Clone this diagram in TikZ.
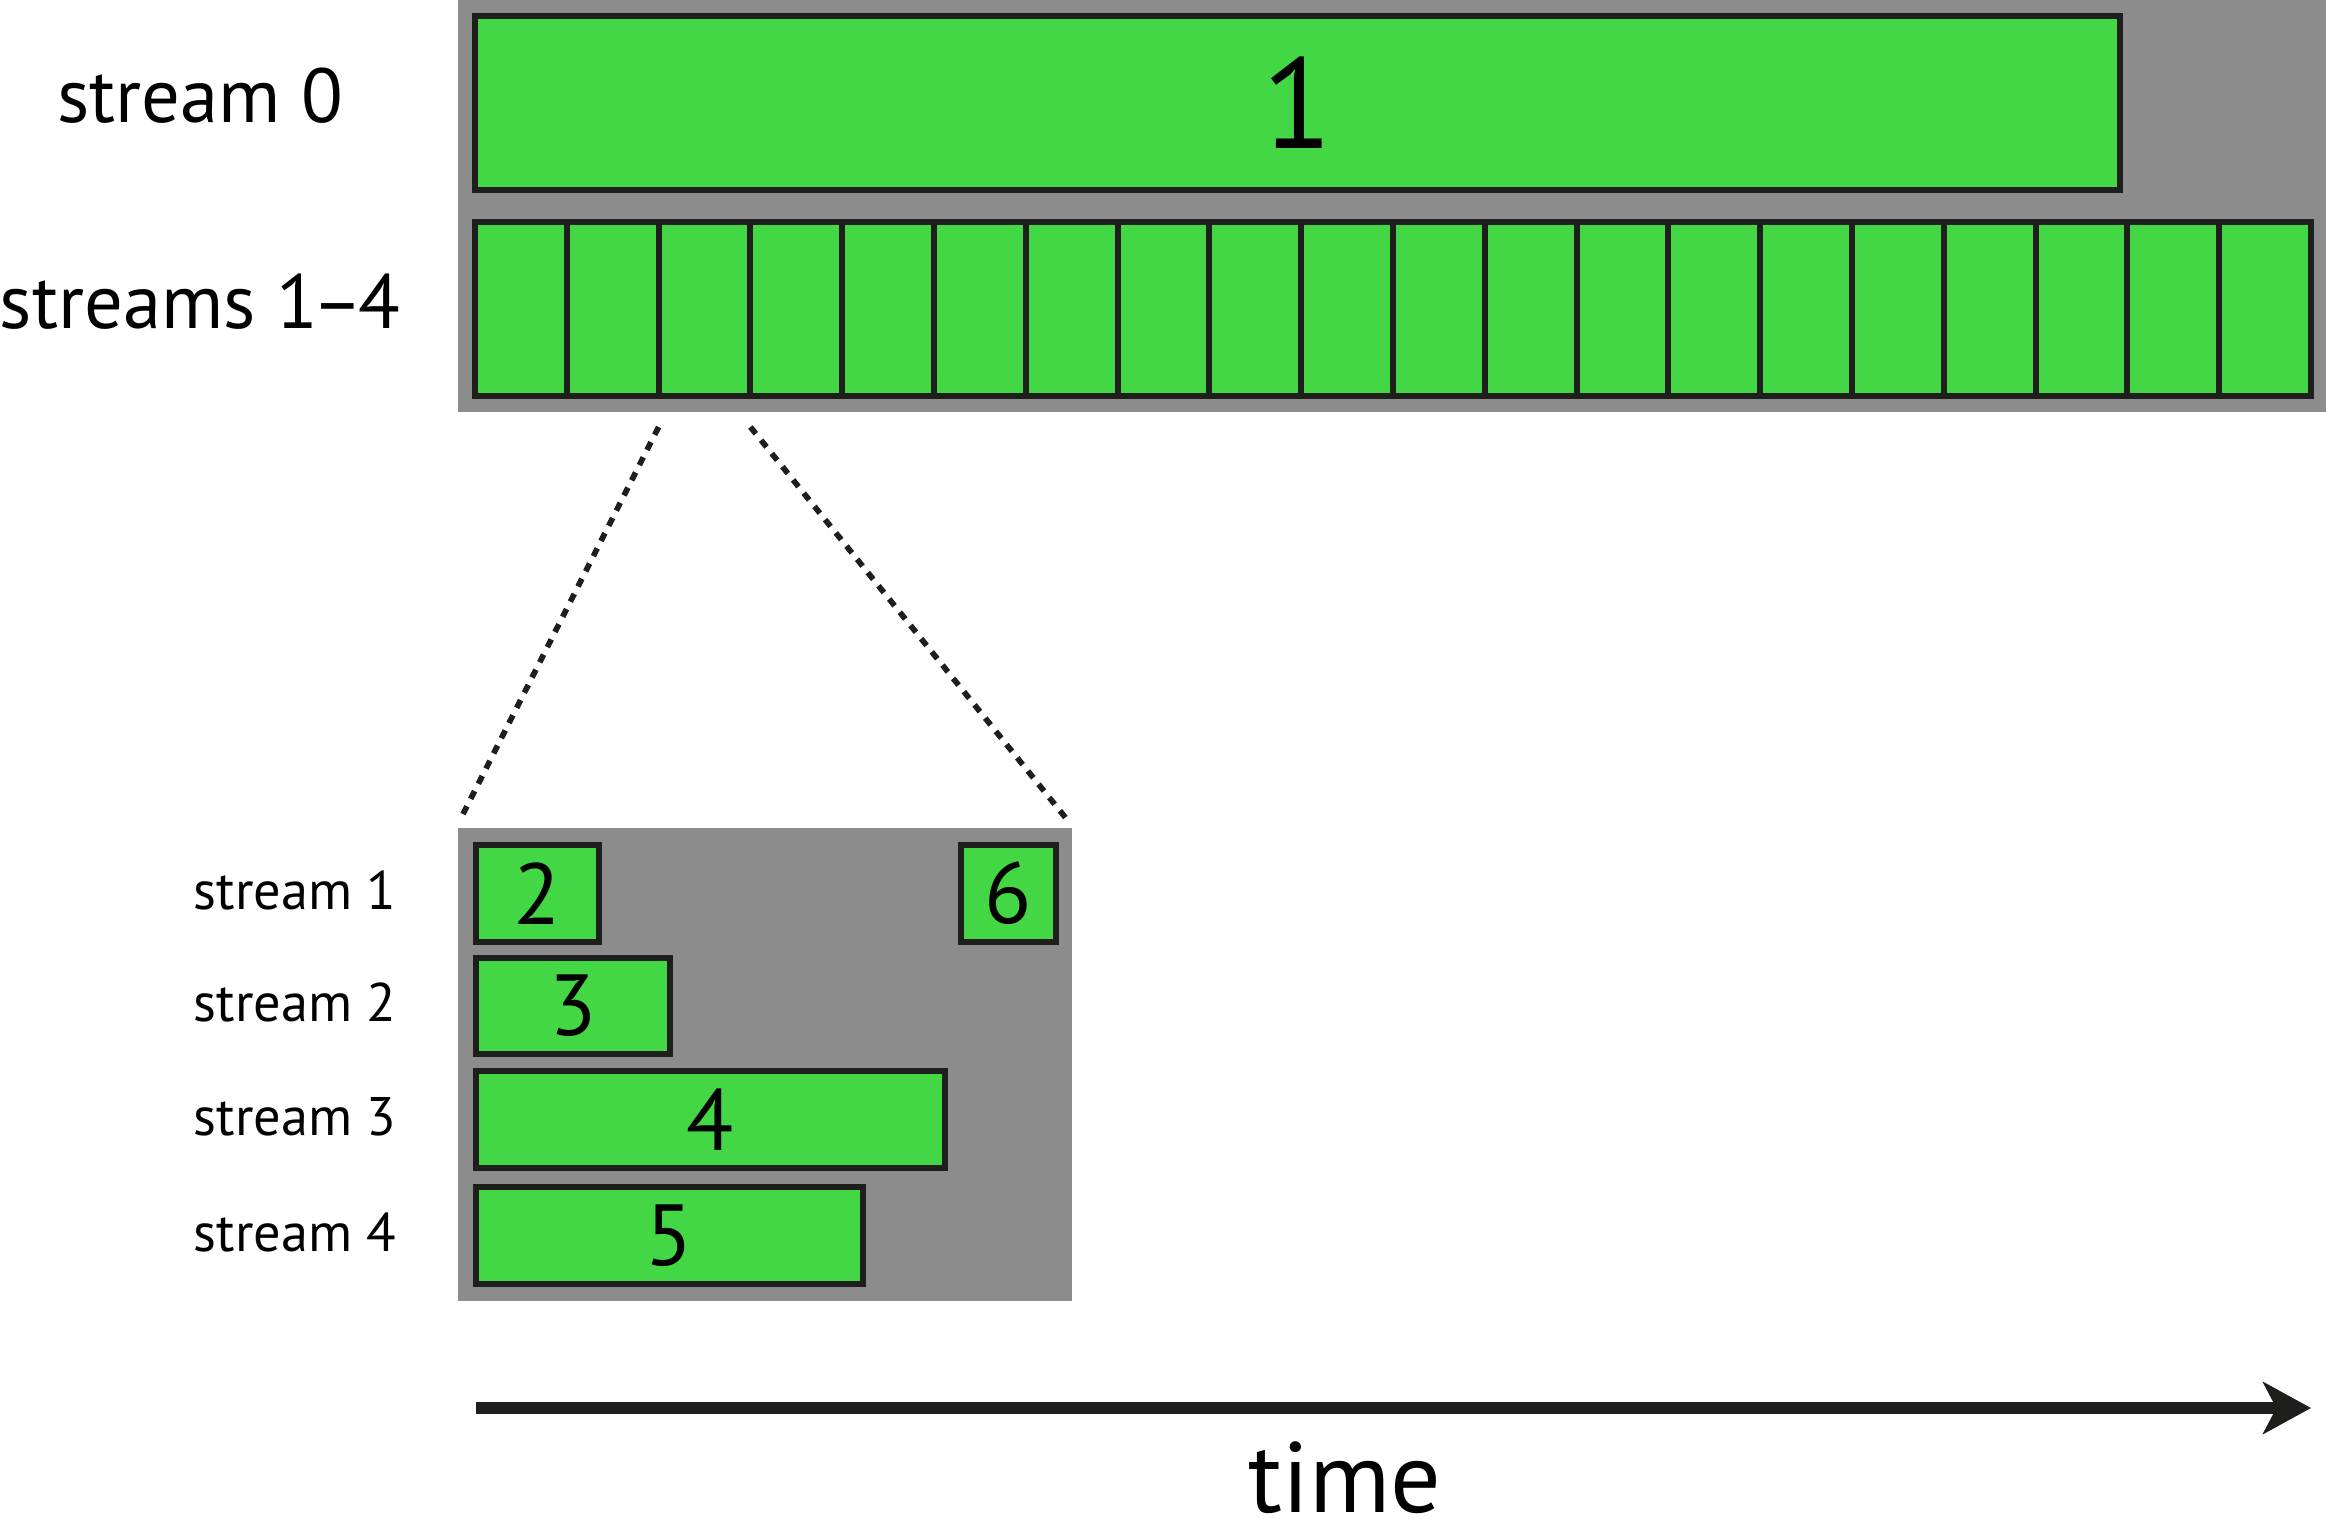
\documentclass[tikz,border=0pt]{standalone}
\usepackage{fontspec}
\setmainfont{PT Sans}
\usetikzlibrary{arrows.meta,calc}
\definecolor{boxgreen}{RGB}{67,215,69}
\definecolor{panelgray}{RGB}{140,140,140}
\definecolor{edgecol}{RGB}{30,30,28}
\begin{document}
\begin{tikzpicture}[x=0.3pt,y=-0.3pt,
  panel/.style={rectangle,fill=panelgray,draw=none,inner sep=0pt,outer sep=0pt},
  gbox/.style={rectangle,fill=boxgreen,draw=edgecol,line width=1.8pt,inner sep=0pt,outer sep=0pt,text=black},
  smalldigit/.style={font=\fontsize{26}{26}\selectfont},
  biglabel/.style={font=\fontsize{23}{23}\selectfont,anchor=base},
  smalllabel/.style={font=\fontsize{16.3}{16.3}\selectfont,anchor=base west},
  dotline/.style={draw=edgecol,line width=1.7pt,dash pattern=on 2.6pt off 2.5pt},
  timearrow/.style={draw=edgecol,line width=3.6pt,-{Stealth[length=14.4pt,width=15.6pt,inset=4pt]}}
]
\useasboundingbox (0,0) rectangle (2326,1538);

% background panels
\node[panel,minimum width=1868*0.3pt,minimum height=412*0.3pt] (toppanel) at (1392,206) {};
\node[panel,minimum width=614*0.3pt,minimum height=473*0.3pt] (zoom) at (765,1064.5) {};

% stream 0
\node[gbox,minimum width=1645*0.3pt,minimum height=174*0.3pt,font=\fontsize{38.6}{38.6}\selectfont] (s0) at (1297.5,103) {1};

% streams 1-4 cells
\foreach \k in {1,...,20}
  \node[gbox,minimum width=91.8*0.3pt,minimum height=174*0.3pt] (c\k) at ({475+91.8*(\k-0.5)},309) {};

% labels top
\node[biglabel] (lab0) at (200,123) {stream 0};
\node[biglabel] (lab14) at (200,328) {streams 1\kern-1.5pt–\kern-1.5pt4};

% zoomed kernels
\node[gbox,smalldigit,minimum width=123*0.3pt,minimum height=97*0.3pt] (b2) at (537.5,893.5) {2};
\node[gbox,smalldigit,minimum width=95*0.3pt,minimum height=97*0.3pt] (b6) at (1008.5,893.5) {6};
\node[gbox,smalldigit,minimum width=194*0.3pt,minimum height=96*0.3pt] (b3) at (573,1006) {3};
\node[gbox,smalldigit,minimum width=469*0.3pt,minimum height=97*0.3pt] (b4) at (710.5,1119.5) {4};
\node[gbox,smalldigit,minimum width=387*0.3pt,minimum height=97*0.3pt] (b5) at (669.5,1235.5) {5};

\node[smalllabel] (l1) at (182,909) {stream 1};
\node[smalllabel] (l2) at (182,1021.5) {stream 2};
\node[smalllabel] (l3) at (182,1135) {stream 3};
\node[smalllabel] (l4) at (182,1251) {stream 4};

% zoom lines
\draw[dotline] ($(c3.south west)+(0,31)$) -- ($(zoom.north west)+(2,-8)$);
\draw[dotline] ($(c3.south east)+(0,31)$) -- ($(zoom.north east)+(-3,-6)$);

% time axis
\coordinate (t0) at (476,1408);
\coordinate (t1) at (2311,1408);
\draw[timearrow] (t0) -- (t1);
\node[font=\fontsize{30}{30}\selectfont,anchor=base] (timelbl) at (1345,1512) {time};
\end{tikzpicture}
\end{document}
